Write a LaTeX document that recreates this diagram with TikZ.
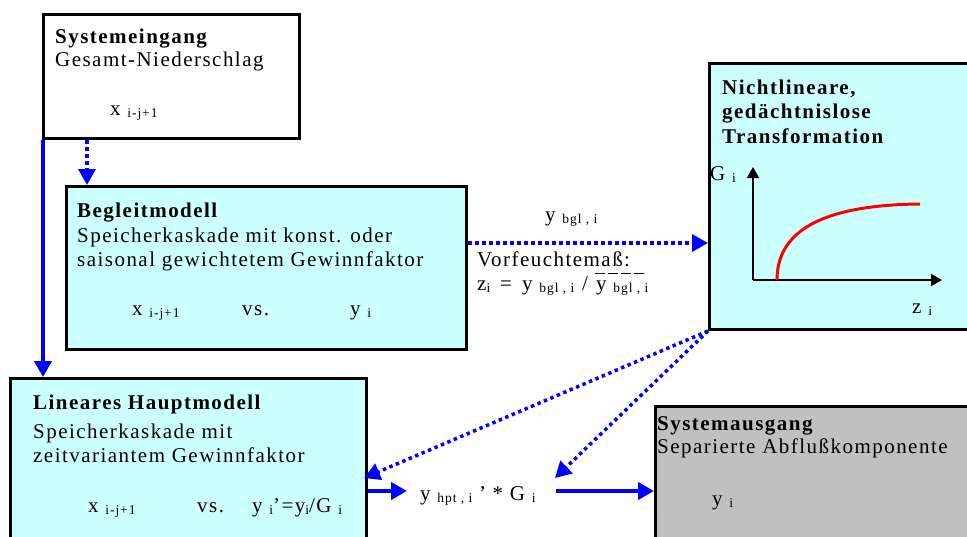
\documentclass[tikz,border=0pt]{standalone}
\usepackage{fontspec}
\setmainfont{Liberation Serif}[LetterSpace=7]
\usetikzlibrary{arrows.meta,calc}
\definecolor{boxcyan}{RGB}{204,255,255}
\definecolor{boxgray}{RGB}{192,192,192}
\newcommand\sbs[1]{\raisebox{-2.5pt}{\fontsize{13.5}{13.5}\selectfont #1}}
\tikzset{
  box/.style={draw=black, line width=3pt, inner sep=0pt, anchor=north west},
  txt/.style={anchor=base west, inner sep=0pt, font=\fontsize{21}{24}\selectfont},
  ttl/.style={anchor=base west, inner sep=0pt, font=\fontsize{21}{24}\selectfont\bfseries},
  sol/.style={draw=blue, line width=4pt, -{Triangle[length=16pt,width=17pt]}},
  dotl/.style={draw=blue, line width=3.5pt, dash pattern=on 3.5pt off 3.5pt, -{Triangle[length=16pt,width=17pt]}},
  axis/.style={draw=black, line width=1.5pt, -{Triangle[length=11pt,width=12pt]}}
}
\begin{document}
\begin{tikzpicture}[x=1pt,y=-1pt]
\useasboundingbox (0,0) rectangle (967,536);
\clip (0,0) rectangle (967,536);
% boxes
\node[box, fill=white, minimum width=256pt, minimum height=124pt] (sys) at (42,13) {};
\node[box, fill=boxcyan, minimum width=400pt, minimum height=163pt] (beg) at (65,185) {};
\node[box, fill=boxcyan, minimum width=300pt, minimum height=266pt] (nl) at (708,62) {};
\node[box, fill=boxcyan, minimum width=356pt, minimum height=190pt] (lin) at (9,377) {};
\node[box, fill=boxgray, minimum width=340pt, minimum height=160pt] (out) at (654,405) {};
% Systemeingang
\node[ttl] (s1) at (55,43) {Systemeingang};
\node[txt] (s2) at (55,66) {Gesamt-Niederschlag};
\node[txt] (s3) at (110,115) {x \sbs{i-j+1}};
% Begleitmodell
\node[ttl] (b1) at (77,217) {Begleitmodell};
\node[txt] (b2) at (77,242) {Speicherkaskade mit konst. oder};
\node[txt] (b3) at (77,266) {saisonal gewichtetem Gewinnfaktor};
\node[txt] (b4) at (132,315) {x \sbs{i-j+1}};
\node[txt] (b5) at (242,315) {vs.};
\node[txt] (b6) at (350,315) {y \sbs{i}};
% Lineares Hauptmodell
\node[ttl] (l1) at (33,409) {Lineares Hauptmodell};
\node[txt] (l2) at (33,438) {Speicherkaskade mit};
\node[txt] (l3) at (33,462) {zeitvariantem Gewinnfaktor};
\node[txt] (l4) at (88,512) {x \sbs{i-j+1}};
\node[txt] (l5) at (197,512) {vs.};
\node[txt] (l6) at (252,512) {y \sbs{i}’=y\sbs{i}/G \sbs{i}};
% Nichtlineare Transformation
\node[ttl] (n1) at (722,94) {Nichtlineare,};
\node[ttl] (n2) at (722,118) {gedächtnislose};
\node[ttl] (n3) at (722,143) {Transformation};
\coordinate (o) at (753,280);
\coordinate (ytop) at (753,167);
\coordinate (xend) at (942,280);
\draw[axis] (o) -- (ytop);
\draw[axis] (o) -- (xend);
\draw[red, line width=3pt] (777,280) .. controls (777,235) and (815,205) .. (920,204);
\node[txt] (gi) at (710,180) {G \sbs{i}};
\node[txt] (zi) at (912,313) {z \sbs{i}};
% Systemausgang
\node[ttl] (o1) at (657,430) {Systemausgang};
\node[txt] (o2) at (657,453) {Separierte Abflußkomponente};
\node[txt] (o3) at (712,505) {y \sbs{i}};
% middle labels
\node[txt] (ybgl) at (545,221) {y \sbs{bgl , i}};
\node[txt] (vf) at (477,266) {Vorfeuchtemaß:};
\node[txt] (zf1) at (477,290) {z\sbs{i}};
\node[txt] (zf2) at (500,290) {=};
\node[txt] (zf3) at (522,290) {y \sbs{bgl , i}};
\node[txt] (zf4) at (582,290) {/};
\node[txt] (zbar) at (596,290) {y \sbs{bgl , i}};
\draw[black, line width=1pt, dash pattern=on 10pt off 3pt] (595,273) -- (646,273);
% product
\node[txt] (prod) at (407,500) {\kern13pt y \sbs{hpt , i} ’ * G \sbs{i}\kern20pt};
\coordinate (pt) at (555,478);
% connectors
\draw[sol] ([xshift=1pt]sys.south west) -- ([xshift=1pt]sys.south west |- lin.north);
\draw[dotl] ([xshift=45pt]sys.south west) -- ([xshift=45pt]sys.south west |- beg.north);
\draw[dotl] (beg.east |- 0,243) -- (nl.west |- 0,243);
\draw[dotl] (nl.south west) -- ([xshift=-4pt]lin.east |- 0,478);
\draw[dotl] (nl.south west) -- (pt);
\draw[sol] (lin.east |- 0,491) -- (prod.west |- 0,491);
\draw[sol] (prod.east |- 0,491) -- (out.west |- 0,491);
\end{tikzpicture}
\end{document}
